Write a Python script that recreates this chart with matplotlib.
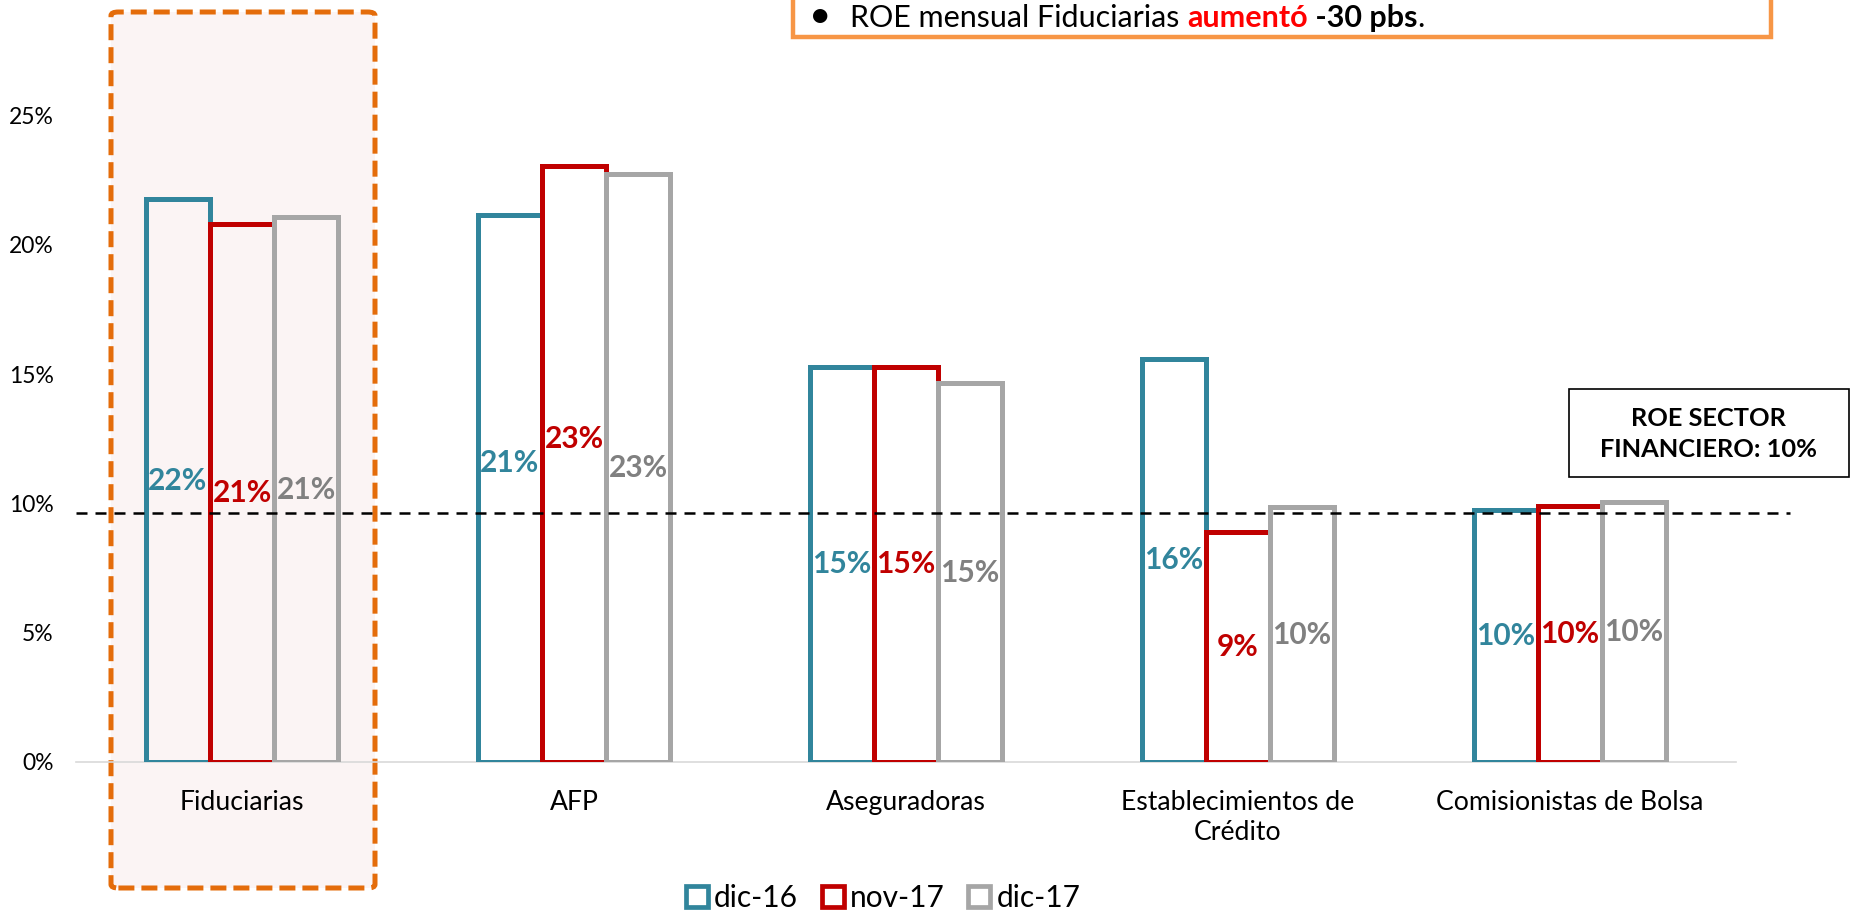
import matplotlib
matplotlib.use("Agg")
import matplotlib.pyplot as plt
from matplotlib.patches import Patch, FancyBboxPatch, Rectangle
import numpy as np

plt.rcParams['font.family'] = ['Lato', 'DejaVu Sans']

# Data
categories = ["Fiduciarias", "AFP", "Aseguradoras", "Establecimientos de\nCrédito",
              "Comisionistas de Bolsa"]
series_names = ["dic-16", "nov-17", "dic-17"]
dic16 = [0.2176, 0.2117, 0.1528, 0.1560, 0.0976]
nov17 = [0.2080, 0.2304, 0.1528, 0.0890, 0.0990]
dic17 = [0.2107, 0.2276, 0.1464, 0.0985, 0.1004]
roe_sector = 0.0963
yticks = [0, 0.05, 0.10, 0.15, 0.20, 0.25]
ytick_labels = ["0%", "5%", "10%", "15%", "20%", "25%"]

edge_colors = ["#31859C", "#C00000", "#A6A6A6"]
label_colors = ["#31859C", "#C00000", "#808080"]

# labels sit mid-bar; a couple were nudged up in the original (in points)
label_nudge = {(0, 1): 18, (1, 1): 18}

W, H = 1850, 915
fig = plt.figure(figsize=(W / 100, H / 100), dpi=100)

# highlight box round Fiduciarias (figure pixels)
hl = FancyBboxPatch((111 / W, 1 - 888 / H), (375 - 111) / W, (888 - 12) / H,
                    boxstyle="round,pad=0,rounding_size=0.004",
                    transform=fig.transFigure, facecolor="#FBF4F4",
                    edgecolor="#E46C0A", linewidth=3.6, linestyle=(0, (3.2, 1.4)),
                    zorder=0)
fig.patches.append(hl)

ax = fig.add_axes([76 / W, 1 - 762 / H, (1736 - 76) / W, (762 - 115.6) / H])
ax.set_facecolor("none")
ax.set_zorder(2)

x = np.arange(len(categories))
w = 0.193
for i, (vals, ec, lc) in enumerate(zip([dic16, nov17, dic17], edge_colors, label_colors)):
    pos = x + (i - 1) * w
    ax.bar(pos, vals, width=w, facecolor="none", edgecolor=ec, linewidth=3.6,
           label=series_names[i], zorder=3)
    for j, (p, v) in enumerate(zip(pos, vals)):
        ax.annotate(f"{v * 100:.0f}%", (p, v / 2), xytext=(0, label_nudge.get((i, j), 0)),
                    textcoords="offset points", ha="center", va="center",
                    color=lc, fontsize=21.5, fontweight="bold", zorder=4)

ax.axhline(roe_sector, xmin=0, xmax=(1790 - 76) / (1736 - 76), color="black",
           linewidth=1.8, dashes=(4.4, 3.2), clip_on=False, zorder=5)

ax.set_xlim(-0.5, len(categories) - 0.5)
ax.set_ylim(0, 0.25)
ax.set_yticks(yticks)
ax.set_yticklabels(ytick_labels, fontsize=16.5)
ax.set_xticks(x)
ax.set_xticklabels(categories, fontsize=19.2, linespacing=1.25)
ax.tick_params(axis="y", length=0, pad=16)
ax.tick_params(axis="x", length=0, pad=20)
for s in ["top", "right", "left"]:
    ax.spines[s].set_visible(False)
ax.spines["bottom"].set_color("#D9D9D9")
ax.spines["bottom"].set_linewidth(1.2)
ax.spines["bottom"].set_zorder(2)

# ROE sector box
fig.patches.append(Rectangle((1569 / W, 1 - 477 / H), (1849 - 1569) / W, (477 - 389) / H,
                             transform=fig.transFigure, facecolor="white",
                             edgecolor="black", linewidth=1.2))
fig.text(1708 / W, 1 - 434 / H, "ROE SECTOR\nFINANCIERO: 10%", ha="center", va="center",
         fontsize=18.3, fontweight="bold", linespacing=1.45)

# top comment box
fig.patches.append(Rectangle((793 / W, 1 - 37 / H), (1771 - 793) / W, 60 / H,
                             transform=fig.transFigure, facecolor="white",
                             edgecolor="#F79646", linewidth=3.2))
ty = 1 - 27 / H
fs = 22
fig.text(809 / W, ty, "\u2022", fontsize=28, va="baseline")
t2 = fig.text(850 / W, ty, "ROE mensual Fiduciarias ", fontsize=fs, va="baseline")
fig.canvas.draw()
r = fig.canvas.get_renderer()
bb = t2.get_window_extent(r)
t3 = fig.text(bb.x1 / W, ty, "aumentó", fontsize=fs, va="baseline",
              color="#FF0000", fontweight="bold")
bb = t3.get_window_extent(r)
t4 = fig.text(bb.x1 / W, ty, " -30 pbs", fontsize=fs, va="baseline", fontweight="bold")
bb = t4.get_window_extent(r)
fig.text(bb.x1 / W, ty, ".", fontsize=fs, va="baseline")

handles = [Patch(facecolor="white", edgecolor=c, linewidth=3.4) for c in edge_colors]
fig.legend(handles, series_names, loc="center", bbox_to_anchor=(883 / W, 1 - 898 / H),
           ncol=3, frameon=False, fontsize=21.5, handlelength=0.74, handleheight=0.74,
           handletextpad=0.2, columnspacing=0.8, borderaxespad=0, borderpad=0)

fig.savefig("out.png", dpi=100)
